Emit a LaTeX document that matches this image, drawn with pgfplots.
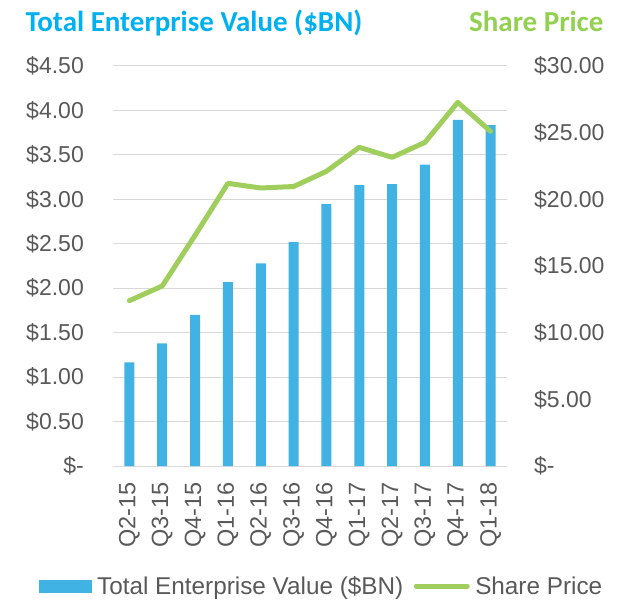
\documentclass[border=0pt]{standalone}
\usepackage{pgfplots}
\pgfplotsset{compat=1.18}
\usepackage{fontspec}
\setmainfont{Liberation Sans}
\newfontfamily\calibri{Carlito}
\definecolor{barblue}{RGB}{64,179,228}
\definecolor{linegreen}{RGB}{160,206,92}
\definecolor{titleblue}{RGB}{0,176,240}
\definecolor{titlegreen}{RGB}{146,208,80}
\definecolor{txtgray}{RGB}{89,89,89}
\definecolor{gridgray}{RGB}{217,217,217}
\begin{document}
\begin{tikzpicture}
\path[use as bounding box] (-113pt,-134pt) rectangle (508pt,466pt);
\begin{axis}[
  scale only axis, width=394pt, height=400pt,
  xmin=-0.5, xmax=11.5, ymin=0, ymax=4.5,
  axis line style={draw=none},
  tick style={draw=none},
  ymajorgrids, grid style={gridgray, line width=1pt},
  ytick={0,0.5,1,1.5,2,2.5,3,3.5,4,4.5},
  yticklabels={\$-\hspace{12pt},\$0.50,\$1.00,\$1.50,\$2.00,\$2.50,\$3.00,\$3.50,\$4.00,\$4.50},
  yticklabel style={font=\fontsize{23}{27}\selectfont, text=txtgray, inner sep=0pt, anchor=east},
  yticklabel shift=29pt,
  xtick={0,...,11},
  xticklabels={Q2-15,Q3-15,Q4-15,Q1-16,Q2-16,Q3-16,Q4-16,Q1-17,Q2-17,Q3-17,Q4-17,Q1-18},
  xticklabel style={font=\fontsize{23.5}{27}\selectfont, text=txtgray, inner sep=0pt, rotate=90, anchor=east},
  xticklabel shift=16pt,
  clip=false,
]
\addplot[ybar, bar width=10pt, fill=barblue, draw=none] coordinates {
  (0,1.165) (1,1.38) (2,1.70) (3,2.07) (4,2.28) (5,2.52)
  (6,2.95) (7,3.16) (8,3.17) (9,3.39) (10,3.895) (11,3.835)};
\end{axis}
\begin{axis}[
  scale only axis, width=394pt, height=400pt,
  xmin=-0.5, xmax=11.5, ymin=0, ymax=30,
  axis line style={draw=none},
  tick style={draw=none},
  xtick=\empty,
  axis y line*=right,
  ytick={0,5,10,15,20,25,30},
  yticklabels={\$-,\$5.00,\$10.00,\$15.00,\$20.00,\$25.00,\$30.00},
  yticklabel style={font=\fontsize{23}{27}\selectfont, text=txtgray, inner sep=0pt, anchor=west},
  yticklabel shift=27pt,
  clip=false,
  legend columns=2,
  legend style={at={(0.5266,-0.30)}, anchor=center, draw=none, fill=none,
    font=\fontsize{24.3}{28}\selectfont, text=txtgray,
    nodes={inner sep=0pt},
    /tikz/column 1/.style={column sep=6pt},
    /tikz/column 2/.style={column sep=10.5pt},
    /tikz/column 3/.style={column sep=5.5pt}},
]
\addlegendimage{legend image code/.code={\fill[barblue] (0pt,-6pt) rectangle (52pt,6pt);}}
\addlegendentry{Total Enterprise Value (\$BN)}
\addplot[linegreen, line width=5pt, line join=round, line cap=round,
  legend image code/.code={\draw[linegreen, line width=5pt, line cap=round] (0pt,0pt) -- (51pt,0pt);}]
  coordinates {
  (0,12.4) (1,13.5) (2,17.3) (3,21.2) (4,20.85) (5,20.96)
  (6,22.1) (7,23.9) (8,23.15) (9,24.27) (10,27.27) (11,25.1)};
\addlegendentry{Share Price}
\end{axis}
\node[anchor=base west, font=\calibri\bfseries\fontsize{29}{34}\selectfont, text=titleblue] at (-91pt,434pt) {Total Enterprise Value (\$BN)};
\node[anchor=base east, font=\calibri\bfseries\fontsize{29}{34}\selectfont, text=titlegreen] at (494pt,434pt) {Share Price};
\end{tikzpicture}
\end{document}
